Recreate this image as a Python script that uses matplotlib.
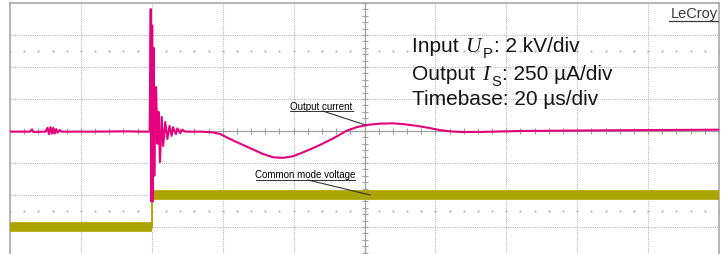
import matplotlib
matplotlib.use("Agg")
import matplotlib.pyplot as plt
import matplotlib.transforms as mtransforms
import numpy as np

plt.rcParams['font.family'] = ['Liberation Sans', 'DejaVu Sans']

# ---- data (time in divisions, amplitude in divisions) ----
cur_t = [0.00, 0.28, 0.31, 0.33, 0.50, 0.53, 0.55, 0.57, 0.59, 0.61, 0.63, 0.65, 0.67, 0.70, 0.73,
         1.20, 1.60, 1.90, 1.970, 1.985, 1.995, 2.005, 2.015, 2.025, 2.035, 2.048, 2.060, 2.080,
         2.095, 2.115, 2.140, 2.160, 2.190, 2.220, 2.250, 2.280, 2.300, 2.340, 2.360, 2.400,
         2.430, 2.470, 2.60, 2.68, 2.85, 2.96, 3.15, 3.29, 3.43, 3.57, 3.71, 3.85, 3.99, 4.13,
         4.33, 4.56, 4.75, 4.89, 5.04, 5.22, 5.40, 5.57, 5.74, 5.90, 6.06, 6.21, 6.35, 6.63,
         7.19, 8.32, 10.0]
cur_v = [-0.02, -0.02, 0.05, -0.03, -0.02, 0.10, -0.10, 0.12, -0.08, 0.10, -0.08, 0.06, -0.05, 0.03, -0.02,
         -0.02, -0.01, -0.02, -0.02, 3.81, -2.20, 3.30, -2.20, 2.60, -1.40, 0.90, 1.375, -0.40,
         0.60, -0.97, 0.44, -0.47, 0.28, -0.25, 0.16, -0.15, 0.12, -0.10, 0.08, -0.06,
         0.04, -0.02, -0.02, -0.02, -0.04, -0.09, -0.30, -0.44, -0.58, -0.72, -0.82, -0.84, -0.79, -0.67,
         -0.48, -0.23, 0.01, 0.12, 0.19, 0.23, 0.24, 0.21, 0.16, 0.10, 0.03, -0.01, -0.03, -0.03,
         0.00, 0.02, 0.04]

cm_edges = [0.0, 2.0, 10.0]      # common-mode voltage: segment boundaries (div)
cm_levels = [-3.0, -2.0]         # common-mode voltage level per segment (div)

# info text lines: (prefix, symbol, subscript, suffix)
info_lines = [('Input ', 'U', 'P', ': 2 kV/div'),
              ('Output ', 'I', 'S', ': 250 µA/div'),
              ('Timebase: 20 µs/div', '', '', '')]

MAGENTA = '#e6007d'
OLIVE = '#aaa500'
GRID = '#b8b8b8'

fig = plt.figure(figsize=(7.28, 2.55), dpi=100)
ax = fig.add_axes([10/728, -5/255, 709/728, 256/255])
ax.set_xlim(0, 10)
ax.set_ylim(-4, 4)
ax.set_xticks([]); ax.set_yticks([])
ax.spines['bottom'].set_visible(False)
for s in ['top', 'left', 'right']:
    ax.spines[s].set_color('#a8a8a8')
    ax.spines[s].set_linewidth(1.2)

# graticule
for gx in range(1, 10):
    if gx != 5:
        ax.axvline(gx, color=GRID, lw=0.8, ls=(0, (1, 1)), zorder=1)
for gy in range(-3, 4):
    if gy != 0:
        ax.axhline(gy, color=GRID, lw=0.8, ls=(0, (1, 1)), zorder=1)
ax.axvline(5, color='#a0a0a0', lw=0.9, zorder=1)
ax.axhline(0, color='#a0a0a0', lw=0.9, zorder=1)
tx = np.arange(0, 10.01, 0.2)
ax.plot(tx, np.zeros_like(tx), ls='none', marker='|', ms=5, mew=0.8, color='#a0a0a0', zorder=1)
ty = np.arange(-4, 4.01, 0.2)
ax.plot(np.full_like(ty, 5.0), ty, ls='none', marker='_', ms=5, mew=0.8, color='#a0a0a0', zorder=1)
for ry in (2.5, -2.5):
    ax.plot(tx, np.full_like(tx, ry), ls='none', marker='.', ms=1.4, color='#bdbdbd', zorder=1)

# common-mode voltage trace: thick noisy levels + thin step edge
for i, lvl in enumerate(cm_levels):
    x0 = cm_edges[i] + (0.03 if i > 0 else 0.0)
    ax.plot([x0, cm_edges[i + 1]], [lvl, lvl], color=OLIVE, lw=7.0,
            solid_capstyle='butt', zorder=3)
ax.plot([cm_edges[1], cm_edges[1]], [cm_levels[0], cm_levels[1]], color=OLIVE, lw=1.3, zorder=3)

# output current trace
ax.plot(cur_t, cur_v, color=MAGENTA, lw=1.5, zorder=4)

# annotations
ax.text(4.39, 0.70, 'Output current', fontsize=7, ha='center', va='baseline', zorder=5)
ax.plot([3.95, 4.84], [0.625, 0.625], color='#333333', lw=0.7, zorder=5)
ax.plot([4.41, 5.01], [0.625, 0.19], color='#333333', lw=0.8, zorder=5)

ax.text(4.17, -1.45, 'Common mode voltage', fontsize=7, ha='center', va='baseline', zorder=5)
ax.plot([3.47, 4.87], [-1.52, -1.52], color='#333333', lw=0.7, zorder=5)
ax.plot([4.20, 5.08], [-1.53, -2.0], color='#333333', lw=0.8, zorder=5)

ax.text(9.99, 3.55, 'LeCroy', fontsize=10.5, ha='right', va='baseline', color='#3a3a3a', zorder=5)
ax.plot([9.29, 9.99], [3.45, 3.45], color='#3a3a3a', lw=0.9, zorder=5)

# info block, composed piecewise so that the subscripts sit low like the original
renderer = fig.canvas.get_renderer()
FS = 15.0
for (pre, sym, sub, post), yy in zip(info_lines, [2.50, 1.625, 0.84]):
    px, py = ax.transData.transform((5.67, yy))
    t = ax.text(px, py, pre, fontsize=FS, ha='left', va='baseline', color='#151515',
                transform=mtransforms.IdentityTransform(), zorder=5)
    if not sym:
        continue
    x = t.get_window_extent(renderer).x1 + 1
    t = ax.text(x, py, sym, fontsize=FS + 0.5, ha='left', va='baseline', color='#151515',
                family='Liberation Serif', style='italic',
                transform=mtransforms.IdentityTransform(), zorder=5)
    x = t.get_window_extent(renderer).x1 + 2
    t = ax.text(x, py - 6, sub, fontsize=FS * 0.7, ha='left', va='baseline', color='#151515',
                transform=mtransforms.IdentityTransform(), zorder=5)
    x = t.get_window_extent(renderer).x1 + 1
    ax.text(x, py, post, fontsize=FS, ha='left', va='baseline', color='#151515',
            transform=mtransforms.IdentityTransform(), zorder=5)

fig.savefig('out.png', dpi=100)
